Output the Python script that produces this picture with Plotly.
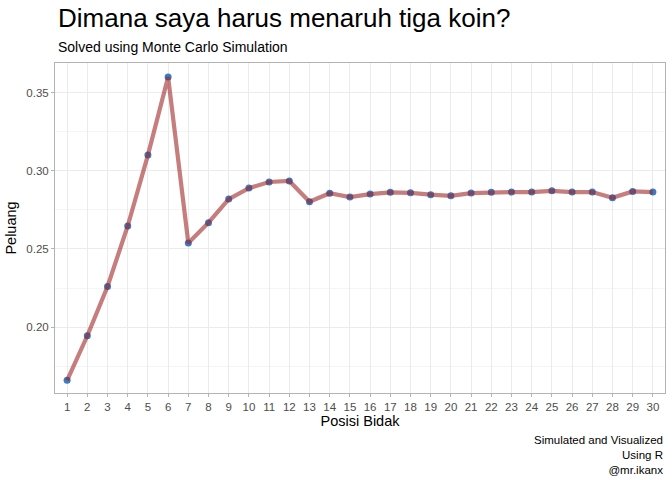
import plotly.graph_objects as go

posisi = list(range(1, 31))
peluang = [0.166, 0.1945, 0.226, 0.2647, 0.310, 0.360, 0.2538, 0.2668, 0.2819, 0.2889,
           0.2928, 0.2935, 0.2802, 0.2856, 0.2832, 0.2851, 0.2862, 0.2859, 0.2847, 0.2840,
           0.2857, 0.2862, 0.2864, 0.2864, 0.2872, 0.2864, 0.2864, 0.2827, 0.2868, 0.2864]
y_ticks = [0.20, 0.25, 0.30, 0.35]
y_minor = [0.175, 0.225, 0.275, 0.325]

title = "Dimana saya harus menaruh tiga koin?"
subtitle = "Solved using Monte Carlo Simulation"
caption = "Simulated and Visualized<br>Using R<br>@mr.ikanx"

FONT = "Liberation Sans, Arial, sans-serif"

fig = go.Figure()
fig.add_trace(go.Scatter(x=posisi, y=peluang, mode="markers",
                         marker=dict(color="#3b7cc4", size=7, line=dict(width=0)),
                         hoverinfo="skip", showlegend=False))
fig.add_trace(go.Scatter(x=posisi, y=peluang, mode="lines",
                         line=dict(color="rgba(160,38,38,0.6)", width=4.2),
                         showlegend=False))

fig.update_layout(
    width=672, height=480,
    margin=dict(l=55, r=7, t=63, b=87),
    paper_bgcolor="white", plot_bgcolor="white",
    font=dict(family=FONT, color="#000000"),
    xaxis=dict(range=[0.4, 30.6], tickmode="array", tickvals=posisi,
               ticktext=[str(p) for p in posisi],
               showgrid=True, gridcolor="#ebebeb", gridwidth=1,
               zeroline=False, showline=True, linecolor="#b3b3b3", linewidth=1, mirror=True,
               ticks="outside", ticklen=3, tickcolor="#b3b3b3",
               tickfont=dict(size=11.5, color="#4d4d4d", family=FONT),
               title=dict(text="Posisi Bidak", font=dict(size=14.5, family=FONT), standoff=4)),
    yaxis=dict(range=[0.1579, 0.3689], tickmode="array", tickvals=y_ticks,
               ticktext=["0.20", "0.25", "0.30", "0.35"],
               showgrid=True, gridcolor="#ebebeb", gridwidth=1,
               minor=dict(tickmode="array", tickvals=y_minor, showgrid=True,
                          gridcolor="#f5f5f5", gridwidth=1, ticks=""),
               zeroline=False, showline=True, linecolor="#b3b3b3", linewidth=1, mirror=True,
               ticks="outside", ticklen=3, tickcolor="#b3b3b3",
               tickfont=dict(size=11.5, color="#4d4d4d", family=FONT),
               title=dict(text="Peluang", font=dict(size=14.5, family=FONT), standoff=6)),
    annotations=[
        dict(text=title, xref="paper", yref="paper", x=0.0, y=1.136,
             xanchor="left", yanchor="middle", showarrow=False, xshift=1,
             font=dict(size=26, family=FONT, color="#000000")),
        dict(text=subtitle, xref="paper", yref="paper", x=0.0, y=1.048,
             xanchor="left", yanchor="middle", showarrow=False, xshift=1,
             font=dict(size=14, family=FONT, color="#000000")),
        dict(text=caption, xref="paper", yref="paper", x=1.0, y=-0.118,
             xanchor="right", yanchor="top", align="right", showarrow=False,
             font=dict(size=11.5, family=FONT, color="#000000")),
    ],
)

fig.write_html("out.html")
